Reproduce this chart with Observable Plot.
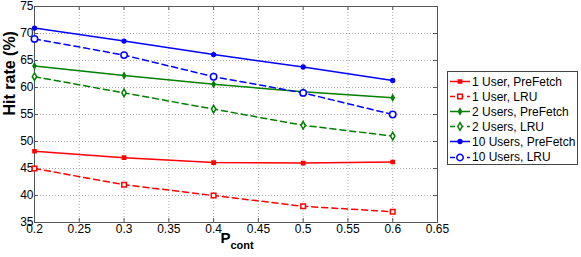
<!DOCTYPE html>
<html>
<head>
<meta charset="utf-8">
<script src="https://cdn.jsdelivr.net/npm/d3@7"></script>
<script src="https://cdn.jsdelivr.net/npm/@observablehq/plot@0.6"></script>
<style>
  html, body { margin: 0; padding: 0; background: #fff; }
  #wrap { position: relative; width: 581px; height: 257px; font-family: "Liberation Sans", Arial, Helvetica, sans-serif; }
  #legend { position: absolute; left: 447px; top: 71px; width: 131px; height: 94px; border: 1px solid #444; background: #fff; box-sizing: border-box; }
  .lrow { position: absolute; left: 0; height: 15px; display: flex; align-items: center; font-size: 12px; color: #000; white-space: nowrap; }
  .lrow svg { display: block; margin-left: 2px; margin-right: 2px; }
</style>
</head>
<body>
<div id="wrap"></div>
<script>
// ---- data ----
const pcont = [0.2, 0.3, 0.4, 0.5, 0.6];
const seriesNames = ["1 User, PreFetch", "1 User, LRU", "2 Users, PreFetch", "2 Users, LRU", "10 Users, PreFetch", "10 Users, LRU"];
const user1PreFetch  = [48.2, 47.0, 46.1, 46.0, 46.2];
const user1LRU       = [45, 42, 40, 38, 37];
const users2PreFetch = [64.0, 62.2, 60.6, 59.2, 58.1];
const users2LRU      = [62, 59, 56, 53, 51];
const users10PreFetch = [71.0, 68.6, 66.1, 63.8, 61.3];
const users10LRU      = [69, 66, 62, 59, 55];
const xTicks = [0.2, 0.25, 0.3, 0.35, 0.4, 0.45, 0.5, 0.55, 0.6, 0.65];
const yTicks = [35, 40, 45, 50, 55, 60, 65, 70, 75];

// ---- styles ----
const seriesValues = [user1PreFetch, user1LRU, users2PreFetch, users2LRU, users10PreFetch, users10LRU];
const styles = [
  {color: "#ff0000", dash: null,  symbol: "square",  r: 1.8, filled: true},
  {color: "#ff0000", dash: "6,4", symbol: "square",  r: 2.6, filled: false},
  {color: "#008000", dash: null,  symbol: "diamond", r: 1.6, filled: true},
  {color: "#008000", dash: "6,4", symbol: "diamond", r: 2.3, filled: false},
  {color: "#0000ff", dash: null,  symbol: "circle",  r: 1.9, filled: true},
  {color: "#0000ff", dash: "6,4", symbol: "circle",  r: 3.2, filled: false}
];

const rows = seriesNames.flatMap((name, s) => pcont.map((p, i) => ({series: name, p, v: seriesValues[s][i]})));

const W = 581, H = 257;
const mL = 34, mR = 144, mT = 6, mB = 35;
const plotW = W - mL - mR, plotH = H - mT - mB;
const tick = 4;
const frameColor = "#555";

const marks = [
  Plot.gridX(xTicks.slice(1, -1), {stroke: "#aaa", strokeOpacity: 1, strokeDasharray: "1,2"}),
  Plot.gridY(yTicks.slice(1, -1), {stroke: "#aaa", strokeOpacity: 1, strokeDasharray: "1,2"}),
  Plot.tickX(xTicks, {x: d => d, stroke: frameColor, insetTop: plotH - tick}),
  Plot.tickX(xTicks, {x: d => d, stroke: frameColor, insetBottom: plotH - tick}),
  Plot.tickY(yTicks, {y: d => d, stroke: frameColor, insetRight: plotW - tick}),
  Plot.tickY(yTicks, {y: d => d, stroke: frameColor, insetLeft: plotW - tick}),
  Plot.axisX({ticks: xTicks, tickSize: 0, tickPadding: 2, fontSize: 12, label: null, tickFormat: d => String(d)}),
  Plot.axisY({ticks: yTicks, tickSize: 0, tickPadding: 1, fontSize: 12, label: null}),
  Plot.frame({stroke: frameColor}),
  Plot.text(["Hit rate (%)"], {frameAnchor: "left", rotate: -90, dx: -25, dy: 1, fontSize: 16, fontWeight: "bold", fill: "#000"}),
  Plot.text(["P"], {frameAnchor: "bottom", dx: 1, dy: 20, fontSize: 15, fontWeight: "bold", fill: "#000", className: "xlab"})
];

seriesNames.forEach((name, s) => {
  const st = styles[s];
  const data = rows.filter(d => d.series === name);
  marks.push(Plot.line(data, {x: "p", y: "v", stroke: st.color, strokeWidth: 1.5, strokeDasharray: st.dash}));
});
seriesNames.forEach((name, s) => {
  const st = styles[s];
  const data = rows.filter(d => d.series === name);
  marks.push(Plot.dot(data, {x: "p", y: "v", symbol: st.symbol, r: st.r,
    stroke: st.color, strokeWidth: 1.5, fill: st.filled ? st.color : "white"}));
});

const chart = Plot.plot({
  width: W, height: H,
  marginLeft: mL, marginRight: mR, marginTop: mT, marginBottom: mB,
  style: {fontFamily: '"Liberation Sans", Arial, Helvetica, sans-serif', fontSize: "12px", color: "#000", background: "#fff"},
  x: {domain: [0.2, 0.65]},
  y: {domain: [35, 75]},
  marks
});
document.getElementById("wrap").appendChild(chart);

// subscript "cont" on x label
const xl = chart.querySelector("g.xlab text") || chart.querySelector(".xlab text");
if (xl) {
  const ts = document.createElementNS("http://www.w3.org/2000/svg", "tspan");
  ts.setAttribute("font-size", "11");
  ts.setAttribute("dy", "6");
  ts.textContent = "cont";
  xl.appendChild(ts);
}

// legend
const legend = document.createElement("div");
legend.id = "legend";
seriesNames.forEach((name, s) => {
  const st = styles[s];
  const row = document.createElement("div");
  row.className = "lrow";
  row.style.top = (2 + s * 15.1) + "px";
  const svg = d3.create("svg").attr("width", 20).attr("height", 15);
  svg.append("line").attr("x1", 0).attr("x2", 20).attr("y1", 7.5).attr("y2", 7.5)
    .attr("stroke", st.color).attr("stroke-width", 1.5).attr("stroke-dasharray", st.dash ? "5,3.5" : null);
  const sym = {square: d3.symbolSquare, diamond: d3.symbolDiamond, circle: d3.symbolCircle}[st.symbol];
  svg.append("path").attr("d", d3.symbol(sym, Math.PI * st.r * st.r)())
    .attr("transform", "translate(10,7.5)")
    .attr("stroke", st.color).attr("stroke-width", 1.5).attr("fill", st.filled ? st.color : "white");
  row.appendChild(svg.node());
  const label = document.createElement("span");
  label.textContent = name;
  row.appendChild(label);
  legend.appendChild(row);
});
document.getElementById("wrap").appendChild(legend);
</script>
</body>
</html>
